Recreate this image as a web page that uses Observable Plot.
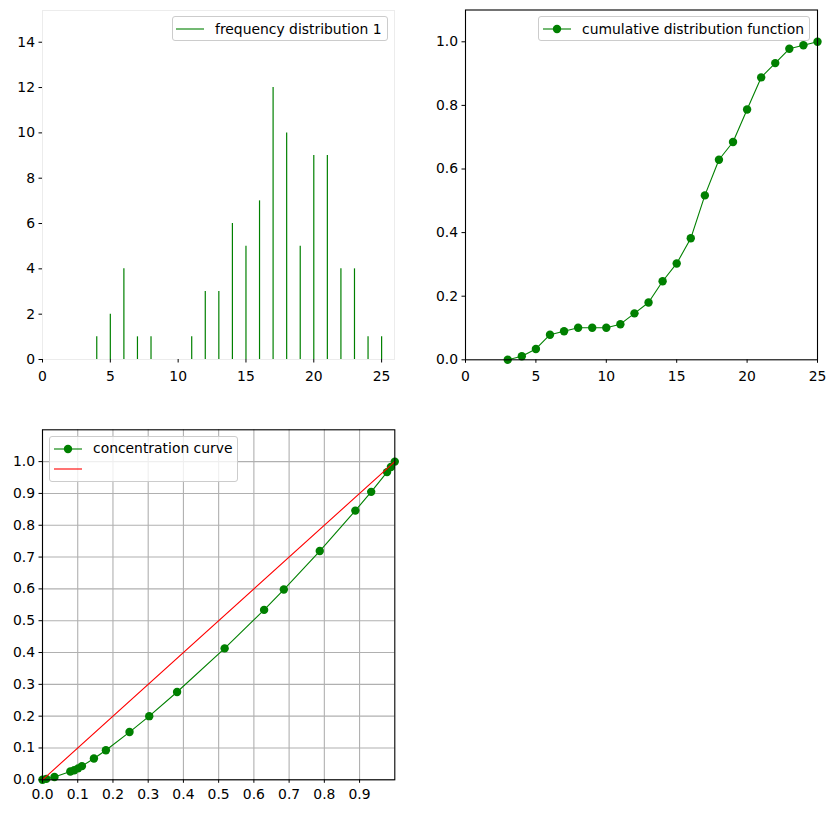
<!DOCTYPE html>
<html>
<head>
<meta charset="utf-8">
<script src="https://cdn.jsdelivr.net/npm/d3@7"></script>
<script src="https://cdn.jsdelivr.net/npm/@observablehq/plot@0.6"></script>
<style>
  body { margin: 0; background: #fff; }
  #fig { position: relative; width: 835px; height: 813px; background: #fff; font-family: "DejaVu Sans", sans-serif; }
  .panel { position: absolute; }
  .legend { position: absolute; border: 1px solid #cccccc; border-radius: 3px; background: rgba(255,255,255,0.8); box-sizing: border-box; font-size: 13.9px; color: #000; }
  .legend svg { position: absolute; left: 0; top: 0; overflow: visible; }
  .legend span { position: absolute; white-space: nowrap; }
</style>
</head>
<body>
<div id="fig"></div>
<script>
// ---- data ----
const freqX = [4, 5, 6, 7, 8, 11, 12, 13, 14, 15, 16, 17, 18, 19, 20, 21, 22, 23, 24, 25];
const freqY = [1, 2, 4, 1, 1, 1, 3, 3, 6, 5, 7, 12, 10, 5, 9, 9, 4, 4, 1, 1];

const cdfX = [3, 4, 5, 6, 7, 8, 9, 10, 11, 12, 13, 14, 15, 16, 17, 18, 19, 20, 21, 22, 23, 24, 25];
const cdfY = [0, 0.011, 0.034, 0.079, 0.090, 0.101, 0.101, 0.101, 0.112, 0.146, 0.180, 0.247, 0.303, 0.382, 0.517, 0.629, 0.685, 0.787, 0.888, 0.933, 0.978, 0.989, 1.0];

const concX = [0, 0.011, 0.034, 0.079, 0.090, 0.101, 0.112, 0.146, 0.180, 0.247, 0.303, 0.382, 0.517, 0.629, 0.685, 0.787, 0.888, 0.933, 0.978, 0.989, 1.0];
const concY = [0, 0.003, 0.009, 0.026, 0.030, 0.036, 0.043, 0.067, 0.093, 0.150, 0.200, 0.276, 0.413, 0.534, 0.598, 0.719, 0.846, 0.905, 0.967, 0.983, 1.0];

const eqX = [0, 1];
const eqY = [0, 1];

const freqTicksX = [0, 5, 10, 15, 20, 25];
const freqTicksY = [0, 2, 4, 6, 8, 10, 12, 14];
const cdfTicksX = [0, 5, 10, 15, 20, 25];
const cdfTicksY = [0, 0.2, 0.4, 0.6, 0.8, 1.0];
const concTicks = [0, 0.1, 0.2, 0.3, 0.4, 0.5, 0.6, 0.7, 0.8, 0.9];
const concTicksY = [0, 0.1, 0.2, 0.3, 0.4, 0.5, 0.6, 0.7, 0.8, 0.9, 1.0];

const legend1 = ["frequency distribution 1"];
const legend2 = ["cumulative distribution function"];
const legend3 = ["concentration curve", ""];

// ---- build tables ----
const freq = freqX.map((x, i) => ({x, y: freqY[i]}));
const cdf = cdfX.map((x, i) => ({x, y: cdfY[i]}));
const conc = concX.map((x, i) => ({x, y: concY[i]}));
const eq = eqX.map((x, i) => ({x, y: eqY[i]}));

const GREEN = "#008000";
const style = {fontFamily: "DejaVu Sans, sans-serif", fontSize: "13.9px", color: "#000", background: "transparent", overflow: "visible"};
const f1 = d3.format(".1f");
const XPAD = 8, YPAD = 4;

const fig = document.getElementById("fig");
function place(el, left, top) {
  el.classList.add("panel");
  el.style.left = left + "px";
  el.style.top = top + "px";
  fig.appendChild(el);
}

// ---- panel 1: frequency distribution ----
const p1 = Plot.plot({
  width: 417, height: 400,
  marginLeft: 42, marginRight: 23, marginTop: 10, marginBottom: 41,
  style,
  x: {domain: [0, 25.95], label: null},
  y: {domain: [0, 15.4], label: null},
  marks: [
    Plot.frame({stroke: "#ececec", strokeWidth: 1}),
    Plot.ruleX(freq, {x: "x", y1: 0, y2: "y", stroke: GREEN, strokeWidth: 1.2}),
    Plot.axisX({ticks: freqTicksX, tickSize: 3.5, tickPadding: XPAD, tickFormat: d3.format("d"), stroke: "#000"}),
    Plot.axisY({ticks: freqTicksY, tickSize: 3.5, tickPadding: YPAD, tickFormat: d3.format("d"), stroke: "#000"})
  ]
});
place(p1, 0, 0);

// ---- panel 2: CDF ----
const p2 = Plot.plot({
  width: 418, height: 400,
  marginLeft: 48, marginRight: 18, marginTop: 9.5, marginBottom: 40.7,
  style,
  x: {domain: [0, 25], label: null},
  y: {domain: [0, 1.1], label: null},
  marks: [
    Plot.line(cdf, {x: "x", y: "y", stroke: GREEN, strokeWidth: 1.1}),
    Plot.dot(cdf, {x: "x", y: "y", r: 4.2, fill: GREEN, stroke: null}),
    Plot.frame({stroke: "#000", strokeWidth: 1.1}),
    Plot.axisX({ticks: cdfTicksX, tickSize: 3.5, tickPadding: XPAD, tickFormat: d3.format("d")}),
    Plot.axisY({ticks: cdfTicksY, tickSize: 3.5, tickPadding: YPAD, tickFormat: f1})
  ]
});
place(p2, 417, 0);

// ---- panel 3: concentration curve ----
const p3 = Plot.plot({
  width: 417, height: 413,
  marginLeft: 42, marginRight: 22.7, marginTop: 29.3, marginBottom: 33.7,
  style,
  x: {domain: [0, 1], label: null},
  y: {domain: [0, 1.1], label: null},
  marks: [
    Plot.gridX(concTicks, {stroke: "#b0b0b0", strokeOpacity: 1, strokeWidth: 1.1}),
    Plot.gridY(concTicksY, {stroke: "#b0b0b0", strokeOpacity: 1, strokeWidth: 1.1}),
    Plot.line(conc, {x: "x", y: "y", stroke: GREEN, strokeWidth: 1.1}),
    Plot.dot(conc, {x: "x", y: "y", r: 4.2, fill: GREEN, stroke: null}),
    Plot.line(eq, {x: "x", y: "y", stroke: "red", strokeWidth: 1.1}),
    Plot.frame({stroke: "#000", strokeWidth: 1.1}),
    Plot.axisX({ticks: concTicks, tickSize: 3.5, tickPadding: XPAD - 2, tickFormat: f1}),
    Plot.axisY({ticks: concTicksY, tickSize: 3.5, tickPadding: YPAD, tickFormat: f1})
  ]
});
place(p3, 0, 400);

// ---- legends (HTML overlays) ----
function legend(left, top, width, height, rows) {
  const box = document.createElement("div");
  box.className = "legend";
  Object.assign(box.style, {left: left + "px", top: top + "px", width: width + "px", height: height + "px"});
  rows.forEach((r) => {
    const ns = "http://www.w3.org/2000/svg";
    const svg = document.createElementNS(ns, "svg");
    svg.setAttribute("width", 40); svg.setAttribute("height", 20);
    svg.style.left = (r.x0 - left - 1) + "px";
    svg.style.top = (r.y - top - 1 - 10) + "px";
    const ln = document.createElementNS(ns, "line");
    ln.setAttribute("x1", 0); ln.setAttribute("x2", r.len);
    ln.setAttribute("y1", 10); ln.setAttribute("y2", 10);
    ln.setAttribute("stroke", r.color); ln.setAttribute("stroke-width", 1.1);
    svg.appendChild(ln);
    if (r.dot) {
      const c = document.createElementNS(ns, "circle");
      c.setAttribute("cx", r.len / 2); c.setAttribute("cy", 10); c.setAttribute("r", 4.2);
      c.setAttribute("fill", r.color);
      svg.appendChild(c);
    }
    box.appendChild(svg);
    const s = document.createElement("span");
    s.textContent = r.text;
    s.style.left = (r.tx - left - 1) + "px";
    s.style.top = (r.y - top - 1 - 8.5) + "px";
    box.appendChild(s);
  });
  fig.appendChild(box);
}
legend(172, 16, 216, 25, [{x0: 176, len: 28, y: 29, color: GREEN, dot: false, tx: 215, text: legend1[0]}]);
legend(538, 16, 272, 25, [{x0: 543, len: 28, y: 29, color: GREEN, dot: true, tx: 582, text: legend2[0]}]);
legend(49, 436, 189, 46, [
  {x0: 54, len: 28, y: 448.5, color: GREEN, dot: true, tx: 93, text: legend3[0]},
  {x0: 54, len: 28, y: 469, color: "red", dot: false, tx: 93, text: legend3[1]}
]);
</script>
</body>
</html>
